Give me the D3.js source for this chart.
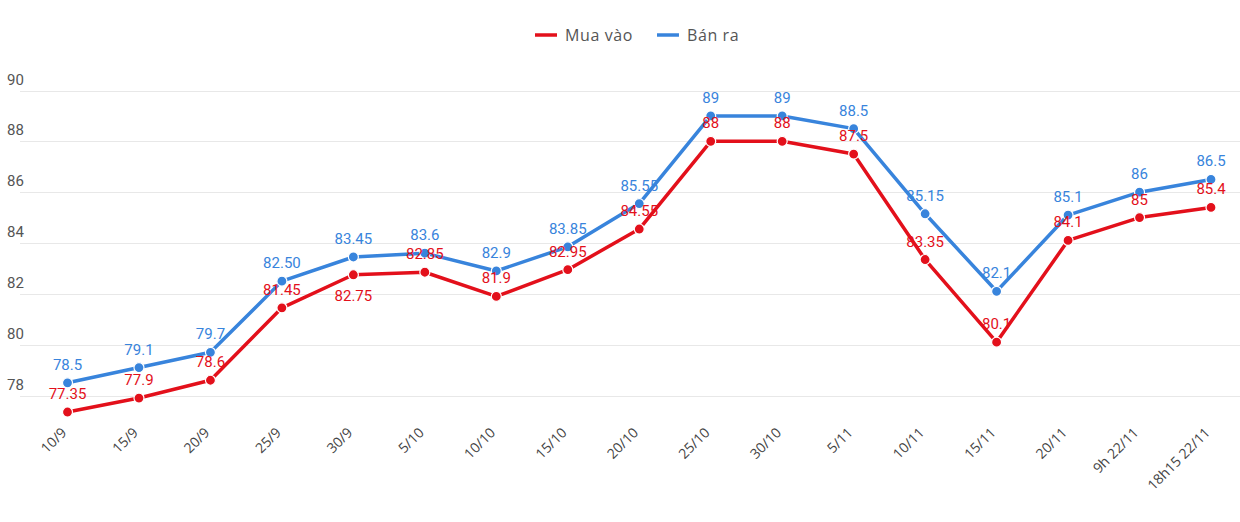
<!DOCTYPE html>
<html>
<head>
<meta charset="utf-8">
<script src="https://cdn.jsdelivr.net/npm/d3@7"></script>
<style>
  body { margin: 0; background: #fff; }
  svg { display: block; font-family: "Open Sans", sans-serif; }
</style>
</head>
<body>
<svg width="1240" height="522"></svg>
<script>
var width = 1240;
var height = 522;

// data
var dates = ["10/9", "15/9", "20/9", "25/9", "30/9", "5/10", "10/10", "15/10", "20/10",
    "25/10", "30/10", "5/11", "10/11", "15/11", "20/11", "9h 22/11", "18h15 22/11"];
var buyValues = [77.35, 77.9, 78.6, 81.45, 82.75, 82.85, 81.9, 82.95, 84.55,
    88, 88, 87.5, 83.35, 80.1, 84.1, 85, 85.4];
var sellValues = [78.5, 79.1, 79.7, 82.5, 83.45, 83.6, 82.9, 83.85, 85.55,
    89, 89, 88.5, 85.15, 82.1, 85.1, 86, 86.5];
var buyLabels = ["77.35", "77.9", "78.6", "81.45", "82.75", "82.85", "81.9", "82.95", "84.55",
    "88", "88", "87.5", "83.35", "80.1", "84.1", "85", "85.4"];
var sellLabels = ["78.5", "79.1", "79.7", "82.50", "83.45", "83.6", "82.9", "83.85", "85.55",
    "89", "89", "88.5", "85.15", "82.1", "85.1", "86", "86.5"];
var yTicks = [78, 80, 82, 84, 86, 88, 90];

// labels the chart put under the point instead of above
var buyLabelBelow = ["30/9"];

var red = "#e3101b";
var blue = "#3884dc";

var svg = d3.select("svg");

var x = d3.scalePoint().domain(dates).range([67.5, 1211]);
var y = d3.scaleLinear().domain([78, 90]).range([395.5, 90.5]);

// grid + y labels
var grid = svg.append("g");
grid.selectAll("line")
    .data(yTicks)
    .enter()
    .append("line")
    .attr("x1", 20)
    .attr("x2", width)
    .attr("y1", function (d) { return Math.round(y(d)) + 0.5; })
    .attr("y2", function (d) { return Math.round(y(d)) + 0.5; })
    .attr("stroke", "#e8e8e8")
    .attr("stroke-width", 1);
grid.selectAll("text")
    .data(yTicks)
    .enter()
    .append("text")
    .attr("x", 7)
    .attr("y", function (d) { return y(d) - 6; })
    .attr("font-family", "Roboto, sans-serif")
    .attr("font-size", "15px")
    .attr("fill", "#555")
    .text(function (d) { return d; });

// x axis labels (rotated)
var xAxis = d3.axisBottom(x).tickSize(0).tickPadding(0);
var xg = svg.append("g")
    .attr("transform", "translate(0,430)")
    .call(xAxis);
xg.select(".domain").remove();
xg.selectAll("text")
    .attr("font-family", "Open Sans, sans-serif")
    .attr("font-size", "14px")
    .attr("fill", "#444")
    .attr("text-anchor", "end")
    .attr("dy", "0.35em")
    .attr("transform", "translate(-4,0) rotate(-45)");

var line = d3.line()
    .x(function (d, i) { return x(dates[i]); })
    .y(function (d) { return y(d); });

function drawSeries(values, color) {
    var g = svg.append("g");
    g.append("path")
        .datum(values)
        .attr("d", line)
        .attr("fill", "none")
        .attr("stroke", color)
        .attr("stroke-width", 3.5)
        .attr("stroke-linejoin", "round");
    g.selectAll("circle")
        .data(values)
        .enter()
        .append("circle")
        .attr("cx", function (d, i) { return x(dates[i]); })
        .attr("cy", function (d) { return y(d); })
        .attr("r", 5)
        .attr("fill", color)
        .attr("stroke", "#fff")
        .attr("stroke-width", 1.2);
}

function drawLabels(values, labels, color, below) {
    svg.append("g").selectAll("text")
        .data(values)
        .enter()
        .append("text")
        .attr("x", function (d, i) { return x(dates[i]); })
        .attr("y", function (d, i) {
            return below.indexOf(dates[i]) >= 0 ? y(d) + 26 : y(d) - 13;
        })
        .attr("text-anchor", "middle")
        .attr("font-family", "Roboto, sans-serif")
        .attr("font-size", "15px")
        .attr("fill", color)
        .text(function (d, i) { return labels[i]; });
}

drawSeries(sellValues, blue);
drawSeries(buyValues, red);
drawLabels(sellValues, sellLabels, blue, []);
drawLabels(buyValues, buyLabels, red, buyLabelBelow);

// legend
var legend = svg.append("g").attr("transform", "translate(535,35)");
var items = [{ name: "Mua vào", color: red }, { name: "Bán ra", color: blue }];
var lx = 0;
items.forEach(function (it) {
    legend.append("line")
        .attr("x1", lx).attr("x2", lx + 22)
        .attr("y1", 0).attr("y2", 0)
        .attr("stroke", it.color)
        .attr("stroke-width", 3.5);
    var t = legend.append("text")
        .attr("x", lx + 30)
        .attr("y", 0)
        .attr("dy", "0.35em")
        .attr("font-family", "Open Sans, sans-serif")
        .attr("font-size", "16px")
        .attr("letter-spacing", "0.6px")
        .attr("fill", "#555")
        .text(it.name);
    lx += 30 + t.node().getComputedTextLength() + 24;
});
</script>
</body>
</html>
